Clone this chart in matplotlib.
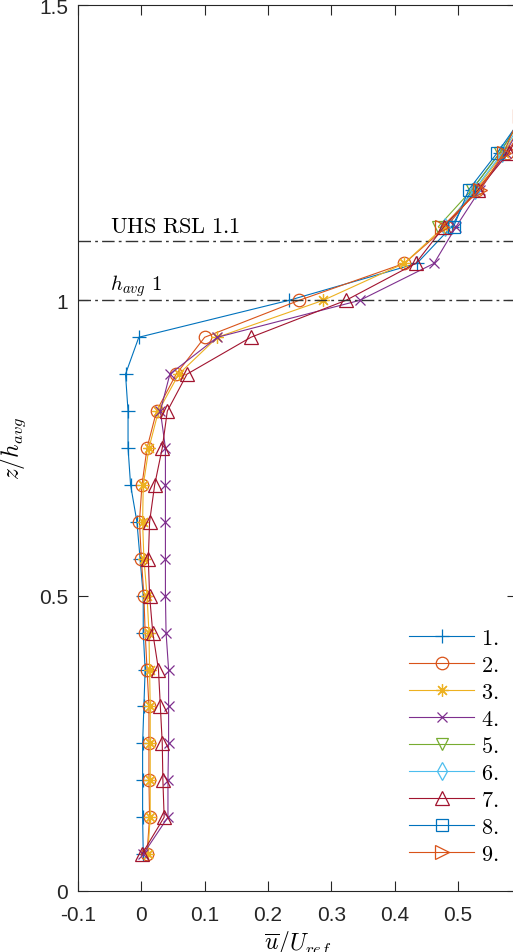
import numpy as np
import matplotlib
matplotlib.use("Agg")
import matplotlib.pyplot as plt

plt.rcParams["mathtext.fontset"] = "cm"
plt.rcParams["font.family"] = ["Liberation Sans", "DejaVu Sans"]

# ── Profile data: normalised height vs normalised mean velocity ──
z_full = np.arange(1, 22) / 16.0          # 0.0625 ... 1.3125
z_top = z_full[17:]                        # 1.125 ... 1.3125

u1 = [0.003, 0.002, 0.002, 0.002, 0.004, 0.006, 0.003, 0.003, -0.002,
      -0.007, -0.017, -0.021, -0.021, -0.025, -0.004, 0.233, 0.435, 0.490,
      0.522, 0.566, 0.602]
u2 = [0.009, 0.013, 0.012, 0.012, 0.012, 0.009, 0.006, 0.004, 0.000, -0.003,
      0.001, 0.009, 0.024, 0.055, 0.100, 0.249, 0.415, 0.482, 0.530, 0.577,
      0.615]
u3 = [0.010, 0.014, 0.014, 0.014, 0.014, 0.013, 0.012, 0.009, 0.004, 0.002,
      0.003, 0.012, 0.027, 0.059, 0.120, 0.287, 0.415, 0.478, 0.528, 0.572,
      0.610]
u4 = [0.003, 0.042, 0.042, 0.043, 0.043, 0.043, 0.039, 0.038, 0.038, 0.038,
      0.038, 0.038, 0.030, 0.045, 0.120, 0.345, 0.462, 0.497, 0.535, 0.575,
      0.608]
u7 = [0.001, 0.036, 0.034, 0.033, 0.030, 0.027, 0.018, 0.013, 0.011, 0.013,
      0.021, 0.033, 0.041, 0.072, 0.173, 0.323, 0.433, 0.478, 0.532, 0.580,
      0.612]
u5 = [0.469, 0.522, 0.566, 0.604]
u6 = [0.480, 0.526, 0.570, 0.606]
u8 = [0.493, 0.517, 0.562, 0.603]
u9 = [0.475, 0.535, 0.572, 0.597]

labels = ["1.", "2.", "3.", "4.", "5.", "6.", "7.", "8.", "9."]

# MATLAB default colour order and marker set ('*' drawn as 8-spoke asterisk)
colors = ["#0072BD", "#D95319", "#EDB120", "#7E2F8E", "#77AC30",
          "#4DBEEE", "#A2142F", "#0072BD", "#D95319"]
markers = ["+", "o", (8, 2, 0), "x", "v", "d", "^", "s", ">"]
msizes = [10, 9, 9, 7, 9, 9, 10, 8, 10]

profiles = [u1, u2, u3, u4, u5, u6, u7, u8, u9]

fig = plt.figure(figsize=(5.13, 9.53), dpi=100)
ax = fig.add_axes([78 / 513, 61 / 953, 439 / 513, 886 / 953])

for u, c, m, ms, lab in zip(profiles, colors, markers, msizes, labels):
    z = z_full if len(u) == len(z_full) else z_top
    ax.plot(u, z, color=c, marker=m, markersize=ms, markerfacecolor="none",
            markeredgewidth=0.9, linewidth=0.8, label=lab)

# Reference heights: roughness sublayer top and mean canopy height
ax.axhline(1.1, color="#333333", linewidth=1.0, linestyle=(0, (9, 3, 2, 3)))
ax.axhline(1.0, color="#333333", linewidth=1.0, linestyle=(0, (9, 3, 2, 3)))
ax.text(-0.05, 1.115, r"$\mathrm{UHS\ RSL\ 1.1}$", fontsize=16, color="black")
ax.text(-0.05, 1.018, r"$h_{avg}\ 1$", fontsize=15, color="black")

ax.set_xlim(-0.1, 0.593)
ax.set_ylim(0, 1.5)
ax.set_xticks([-0.1, 0, 0.1, 0.2, 0.3, 0.4, 0.5])
ax.set_xticklabels(["-0.1", "0", "0.1", "0.2", "0.3", "0.4", "0.5"])
ax.set_yticks([0, 0.5, 1, 1.5])
ax.set_yticklabels(["0", "0.5", "1", "1.5"])

axis_col = "#262626"
for s in ax.spines.values():
    s.set_color(axis_col)
    s.set_linewidth(0.8)
ax.tick_params(direction="in", length=7, width=0.8, colors=axis_col,
               labelsize=15, top=True, right=True)
ax.tick_params(axis="x", pad=10)
ax.tick_params(axis="y", pad=7)

ax.set_xlabel(r"$\overline{u}/U_{ref}$", fontsize=17, labelpad=3)
ax.set_ylabel(r"$z/h_{avg}$", fontsize=17, labelpad=8)

leg = ax.legend(loc="center left", bbox_to_anchor=(0.708, 0.163),
                frameon=False, handlelength=2.95,
                handletextpad=0.3, labelspacing=0.27,
                prop={"size": 16})
for t in leg.get_texts():
    t.set_text("$" + t.get_text() + "$")

fig.savefig("out.png", dpi=100)
